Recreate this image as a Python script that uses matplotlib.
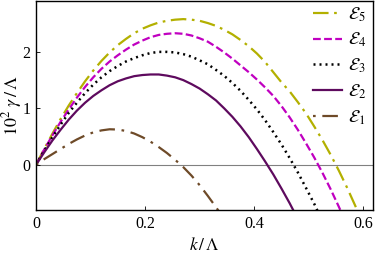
import numpy as np
import matplotlib
matplotlib.use('Agg')
import matplotlib.pyplot as plt

plt.rcParams['font.family'] = ['Liberation Serif', 'DejaVu Serif']
plt.rcParams['mathtext.fontset'] = 'stix'

# k/Lambda grid, shared by all curves (each curve stops where it leaves the plot)
k = [0, 0.015, 0.03, 0.045, 0.06, 0.075, 0.09, 0.105, 0.12, 0.135,
     0.15, 0.165, 0.18, 0.195, 0.21, 0.225, 0.24, 0.255, 0.27, 0.285,
     0.30, 0.315, 0.33, 0.345, 0.36, 0.375, 0.39, 0.405, 0.42, 0.435,
     0.45, 0.465, 0.48, 0.495, 0.51, 0.525, 0.54, 0.555, 0.57, 0.585, 0.60]

# 10^2 gamma/Lambda
g5 = [0, 0.28, 0.55, 0.81, 1.05, 1.27, 1.48, 1.67, 1.84, 1.99,
      2.12, 2.23, 2.33, 2.41, 2.47, 2.52, 2.55, 2.57, 2.58, 2.57,
      2.55, 2.51, 2.46, 2.39, 2.31, 2.21, 2.10, 1.97, 1.82, 1.64,
      1.46, 1.30, 1.11, 0.91, 0.68, 0.44, 0.18, -0.10, -0.40, -0.72, -1.06]
g4 = [0, 0.27, 0.52, 0.76, 0.98, 1.19, 1.38, 1.55, 1.70, 1.83,
      1.94, 2.04, 2.13, 2.20, 2.26, 2.30, 2.32, 2.33, 2.32, 2.29,
      2.24, 2.18, 2.09, 1.99, 1.88, 1.76, 1.64, 1.51, 1.37, 1.22,
      1.04, 0.84, 0.62, 0.38, 0.13, -0.14, -0.43, -0.74, -1.06]
g3 = [0, 0.25, 0.49, 0.71, 0.92, 1.10, 1.27, 1.42, 1.55, 1.66,
      1.75, 1.83, 1.89, 1.94, 1.98, 2.00, 2.00, 1.99, 1.96, 1.915,
      1.85, 1.78, 1.68, 1.575, 1.45, 1.31, 1.15, 0.98, 0.79, 0.58,
      0.36, 0.12, -0.135, -0.41, -0.69, -1.0]
g2 = [0, 0.22, 0.43, 0.62, 0.80, 0.96, 1.10, 1.22, 1.32, 1.41,
      1.48, 1.53, 1.57, 1.59, 1.60, 1.60, 1.58, 1.55, 1.50, 1.43,
      1.35, 1.25, 1.14, 1.00, 0.85, 0.68, 0.49, 0.28, 0.06, -0.17,
      -0.42, -0.68, -0.96]
g1 = [0, 0.10, 0.19, 0.28, 0.37, 0.45, 0.52, 0.575, 0.61, 0.63,
      0.625, 0.60, 0.555, 0.49, 0.41, 0.315, 0.21, 0.09, -0.04, -0.19,
      -0.36, -0.55, -0.75, -0.96]

labels = [r'$\mathcal{E}_5$', r'$\mathcal{E}_4$', r'$\mathcal{E}_3$', r'$\mathcal{E}_2$', r'$\mathcal{E}_1$']

fig = plt.figure(figsize=(3.78, 2.59), dpi=100)
ax = fig.add_axes([0.0952, 0.189, 0.892, 0.807])

ax.axhline(0, color='#808080', lw=0.8, zorder=1)
ax.plot(k[:len(g5)], g5, color='#b3b000', lw=1.6, dashes=(7, 2.5, 1.2, 2.5), label=labels[0])
ax.plot(k[:len(g4)], g4, color='#c000c0', lw=1.6, dashes=(3.5, 1.5), label=labels[1])
ax.plot(k[:len(g3)], g3, color='black', lw=1.8, dashes=(0.8, 1.6), label=labels[2])
ax.plot(k[:len(g2)], g2, color='#5e0a5e', lw=1.6, label=labels[3])
ax.plot(k[:len(g1)], g1, color='#6e4a28', lw=1.6, dashes=(1.2, 3, 7, 3), label=labels[4])

ax.set_xlim(0, 0.618)
ax.set_ylim(-0.8, 2.9)
ax.set_xticks([0, 0.2, 0.4, 0.6])
ax.set_xticklabels(['0', '0.2', '0.4', '0.6'])
ax.set_yticks([0, 1, 2])
ax.tick_params(direction='in', length=3, width=0.6, labelsize=11.5, pad=4)
for s in ax.spines.values():
    s.set_linewidth(1.0)

ax.set_xlabel(r'$k\,/\,\Lambda$', fontsize=12.5, labelpad=4)
ax.set_ylabel(r'$10^2\ \gamma\,/\,\Lambda$', fontsize=13)
ax.yaxis.set_label_coords(-0.036, 0.5)

ax.legend(loc='upper right', bbox_to_anchor=(1.0, 1.015), frameon=False, fontsize=13,
          handlelength=1.6, handletextpad=0.3, labelspacing=0.41, borderaxespad=0.0)

fig.savefig('out.png', dpi=100)
